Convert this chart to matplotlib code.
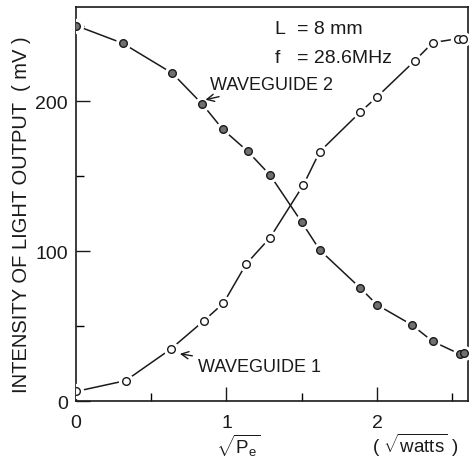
import matplotlib.pyplot as plt

# sqrt(Pe) in sqrt(watts)
x_wg2 = [0.0, 0.31, 0.64, 0.84, 0.975, 1.14, 1.29, 1.50, 1.62, 1.89, 2.00, 2.23, 2.37, 2.55, 2.58]
y_wg2 = [250.5, 238.7, 218.7, 198.0, 181.3, 166.7, 150.7, 119.3, 100.7, 75.3, 64.2, 50.9, 39.8, 31.3, 31.8]

x_wg1 = [0.0, 0.33, 0.63, 0.85, 0.98, 1.13, 1.29, 1.51, 1.62, 1.89, 2.00, 2.25, 2.37, 2.54, 2.57]
y_wg1 = [6.4, 13.6, 34.7, 53.6, 65.3, 91.3, 109.1, 144.0, 166.4, 192.9, 202.9, 226.9, 239.1, 241.8, 241.8]

x_major = [0, 1, 2]
x_minor = [0.5, 1.5, 2.5]
y_major = [0, 100, 200]
y_minor = [50, 150, 250]

plt.rcParams['font.family'] = ['Liberation Sans', 'DejaVu Sans']
plt.rcParams['mathtext.fontset'] = 'custom'
plt.rcParams['mathtext.rm'] = 'Liberation Sans'
plt.rcParams['mathtext.it'] = 'Liberation Sans'

fig = plt.figure(figsize=(4.69, 4.60), dpi=100)
ax = fig.add_axes([0.162, 0.126, 0.836, 0.857])

ink = '#1a1a1a'
for xs, ys, face in [(x_wg2, y_wg2, '#707070'), (x_wg1, y_wg1, 'white')]:
    ax.plot(xs, ys, '-', color=ink, lw=1.1, zorder=2)
    # white halo so the line breaks around each point
    ax.plot(xs, ys, 'o', ms=10, mfc='white', mec='white', zorder=3)
    ax.plot(xs, ys, 'o', ms=5.5, mfc=face, mec=ink, mew=1.0, zorder=4)

ax.set_xlim(0, 2.605)
ax.set_ylim(0, 263)
ax.set_xticks(x_major)
ax.set_xticks(x_minor, minor=True)
ax.set_yticks(y_major)
ax.set_yticks(y_minor, minor=True)
ax.tick_params(which='major', direction='in', length=10, width=1.0, labelsize=14, colors=ink)
ax.tick_params(which='minor', direction='in', length=6, width=1.0)
ax.tick_params(axis='x', pad=9)
ax.tick_params(axis='y', pad=6)
for s in ax.spines.values():
    s.set_linewidth(1.2)
    s.set_color(ink)

ax.set_ylabel('INTENSITY OF LIGHT OUTPUT  ( mV )', fontsize=14.5, color=ink)
ax.yaxis.set_label_coords(-0.115, 0.476)

ax.text(1.08, -0.11, r'$\sqrt{\mathrm{P_e}}$', transform=ax.get_xaxis_transform(),
        ha='center', va='center', fontsize=13.5, color=ink)
ax.text(2.25, -0.11, r'( $\sqrt{\mathrm{watts}}$ )', transform=ax.get_xaxis_transform(),
        ha='center', va='center', fontsize=13.5, color=ink)

ax.text(1.32, 248.5, 'L', fontsize=14, va='center', color=ink)
ax.text(1.47, 248.5, '= 8 mm', fontsize=14, va='center', color=ink)
ax.text(1.32, 229, 'f', fontsize=14, va='center', color=ink)
ax.text(1.47, 229, '= 28.6MHz', fontsize=14, va='center', color=ink)

ax.annotate('WAVEGUIDE 2', xy=(0.86, 201), xytext=(0.89, 211),
            fontsize=13, va='center', ha='left', color=ink,
            arrowprops=dict(arrowstyle='->', color=ink, lw=1.0, shrinkA=2, shrinkB=0))
ax.annotate('WAVEGUIDE 1', xy=(0.69, 31.5), xytext=(0.81, 23),
            fontsize=13, va='center', ha='left', color=ink,
            arrowprops=dict(arrowstyle='->', color=ink, lw=1.0, shrinkA=2, shrinkB=0))

fig.savefig('out.png', dpi=100)
